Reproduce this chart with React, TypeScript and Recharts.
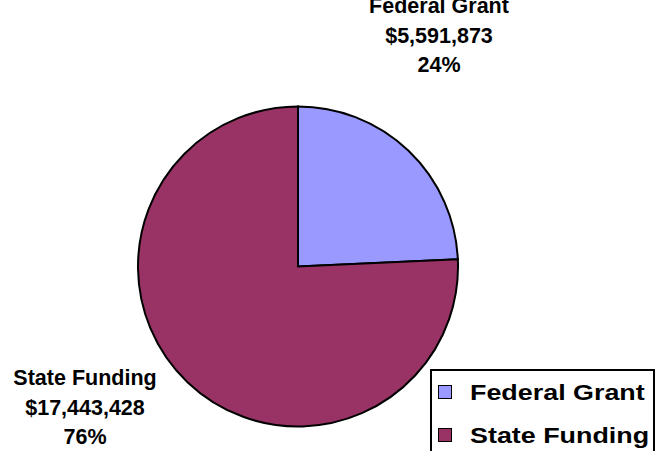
import { Cell, Legend, Pie, PieChart } from "recharts";

const names = ["Federal Grant", "State Funding"];
const amounts = [5591873, 17443428];
const colors = ["#9999FF", "#993366"];

// where each slice label sits, relative to the pie centre (first line baseline)
const labelOffsets = [
  { dx: 141, dy: -253.5 },
  { dx: -213, dy: 118.5 },
];

const data = names.map((name, i) => ({ name, value: amounts[i] }));

const FONT = '"Liberation Sans", Arial, Helvetica, sans-serif';

function renderLabel(props: any) {
  const { cx, cy, index, name, value, percent } = props;
  const off = labelOffsets[index];
  const x = cx + off.dx;
  const y = cy + off.dy;
  return (
    <text
      x={x}
      y={y}
      textAnchor="middle"
      fontFamily={FONT}
      fontWeight="bold"
      fontSize={21.5}
      fill="#000"
    >
      <tspan x={x} y={y}>{name}</tspan>
      <tspan x={x} y={y + 29.5}>{"$" + Number(value).toLocaleString("en-US")}</tspan>
      <tspan x={x} y={y + 59}>{Math.round(percent * 100) + "%"}</tspan>
    </text>
  );
}

function renderLegend(props: any) {
  const payload = props.payload || [];
  return (
    <div
      style={{
        border: "2px solid #000",
        background: "#fff",
        width: 225,
        height: 100,
        boxSizing: "border-box",
        paddingTop: 1,
        fontFamily: FONT,
        fontWeight: "bold",
        fontSize: 21.5,
        color: "#000",
      }}
    >
      {payload.map((entry: any, i: number) => (
        <div
          key={i}
          style={{ position: "relative", height: 43, lineHeight: "43px", paddingLeft: 38, whiteSpace: "nowrap" }}
        >
          <span
            style={{
              position: "absolute",
              left: 6,
              top: 13,
              width: 14,
              height: 14,
              boxSizing: "border-box",
              border: "1.5px solid #000",
              background: colors[i] || entry.color,
            }}
          />
          <span style={{ display: "inline-block", transform: "scaleX(1.25)", transformOrigin: "left center" }}>
            {entry.value}
          </span>
        </div>
      ))}
    </div>
  );
}

export default function App() {
  return (
    <div
      style={{
        position: "absolute",
        left: 0,
        top: 0,
        width: 665,
        height: 451,
        overflow: "hidden",
        background: "#fff",
      }}
    >
      <PieChart width={665} height={451} margin={{ top: 0, right: 0, bottom: 0, left: 0 }}>
        <Pie
          data={data}
          dataKey="value"
          nameKey="name"
          cx={298}
          cy={266.5}
          outerRadius={160}
          startAngle={90}
          endAngle={-270}
          stroke="#000"
          strokeWidth={2}
          label={renderLabel}
          labelLine={false}
          isAnimationActive={false}
        >
          {data.map((d, i) => (
            <Cell key={d.name} fill={colors[i]} />
          ))}
        </Pie>
        <Legend
          layout="vertical"
          align="right"
          verticalAlign="bottom"
          content={renderLegend}
          wrapperStyle={{ left: 430, top: 369, bottom: "auto", right: "auto", width: 225 }}
        />
      </PieChart>
    </div>
  );
}
